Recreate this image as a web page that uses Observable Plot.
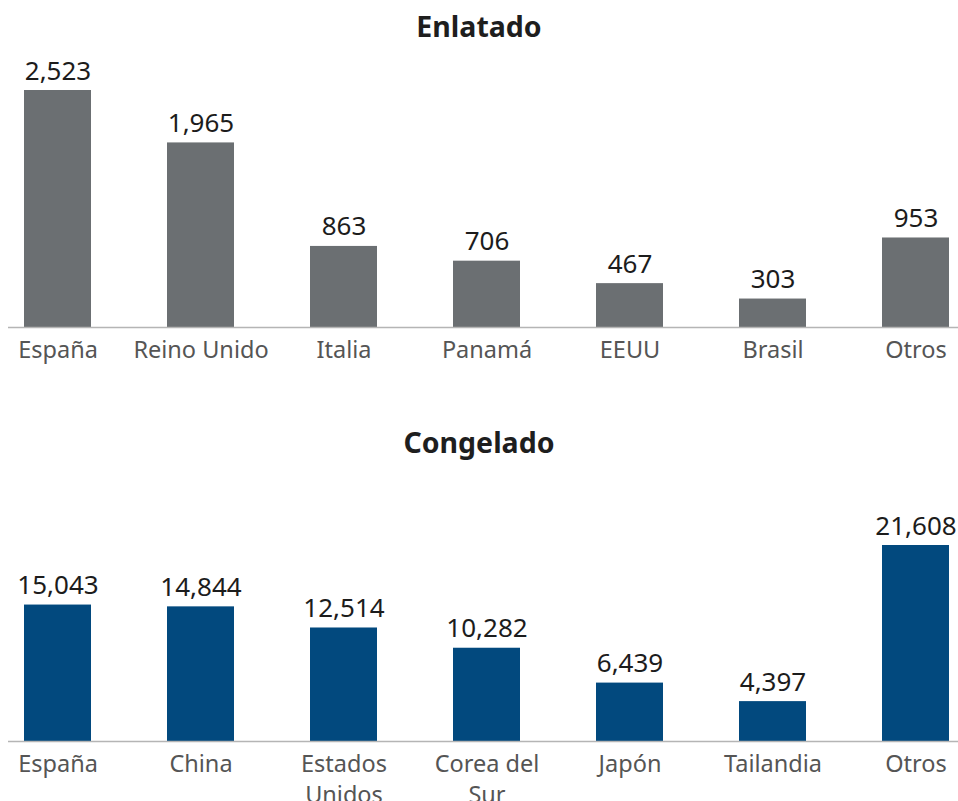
<!DOCTYPE html>
<html>
<head>
<meta charset="utf-8">
<script src="https://cdn.jsdelivr.net/npm/d3@7"></script>
<script src="https://cdn.jsdelivr.net/npm/@observablehq/plot@0.6"></script>
<style>
  html, body { margin: 0; padding: 0; background: #fff; }
  body { width: 958px; height: 801px; position: relative; overflow: hidden; font-family: "Noto Sans", sans-serif; }
  .title { position: absolute; left: 0; width: 958px; text-align: center; font-weight: 700; font-size: 28.5px; color: #1e1e1e; line-height: 1; }
  .chart { position: absolute; left: 0; }
</style>
</head>
<body>
<div class="title" id="t1" style="top:12px;">Enlatado</div>
<div class="chart" id="c1" style="top:40px;"></div>
<div class="title" id="t2" style="top:428px;">Congelado</div>
<div class="chart" id="c2" style="top:460px;"></div>
<script>
// Enlatado (canned)
const cannedCountries = ["España", "Reino Unido", "Italia", "Panamá", "EEUU", "Brasil", "Otros"];
const cannedValues = [2523, 1965, 863, 706, 467, 303, 953];

// Congelado (frozen)
const frozenCountries = ["España", "China", "Estados\nUnidos", "Corea del\nSur", "Japón", "Tailandia", "Otros"];
const frozenValues = [15043, 14844, 12514, 10282, 6439, 4397, 21608];

const fmt = d3.format(",");
const FONT = "Noto Sans, sans-serif";

function barChart(countries, values, color, opts) {
  const data = countries.map((c, i) => ({country: c, value: values[i]}));
  return Plot.plot({
    width: 958,
    height: opts.height,
    marginLeft: 8,
    marginRight: 0,
    marginTop: opts.marginTop,
    marginBottom: opts.marginBottom,
    style: {fontFamily: FONT, background: "transparent", overflow: "visible"},
    x: {domain: countries, range: [24, 950], paddingInner: 0.53, paddingOuter: 0, axis: null},
    y: {domain: [0, opts.yMax], axis: null},
    marks: [
      Plot.barY(data, {x: "country", y: "value", fill: color}),
      Plot.ruleY([0], {stroke: "#b5b5b5", strokeWidth: 1.5}),
      Plot.text(data, {x: "country", y: "value", text: d => fmt(d.value), dy: -11, lineAnchor: "bottom", fontSize: 26, fill: "#1c1c1c"}),
      Plot.text(data, {x: "country", y: 0, text: "country", dy: 9, lineAnchor: "top", lineHeight: 1.3, fontSize: 23.5, fill: "#555"})
    ]
  });
}

document.getElementById("c1").append(
  barChart(cannedCountries, cannedValues, "#6b6f72", {height: 340, marginTop: 50, marginBottom: 53, yMax: 2523})
);
document.getElementById("c2").append(
  barChart(frozenCountries, frozenValues, "#02497e", {height: 341, marginTop: 85, marginBottom: 60, yMax: 21608})
);
</script>
</body>
</html>
